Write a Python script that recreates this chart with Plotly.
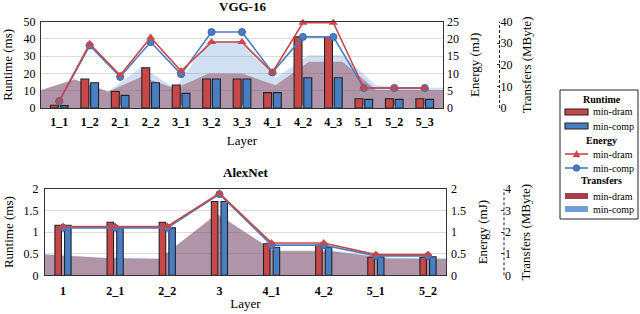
import plotly.graph_objects as go

# ---------------- data ----------------
vgg_layers = ["1_1", "1_2", "2_1", "2_2", "3_1", "3_2", "3_3", "4_1", "4_2", "4_3", "5_1", "5_2", "5_3"]
vgg_runtime_dram = [1.6, 16.8, 9.6, 23.3, 13.3, 16.8, 16.8, 8.9, 41.2, 41.2, 5.4, 5.4, 5.4]
vgg_runtime_comp = [1.4, 14.6, 7.3, 14.6, 8.5, 16.8, 16.8, 8.9, 17.5, 17.5, 5.0, 5.0, 5.0]
vgg_energy_dram = [2.1, 18.6, 9.5, 20.4, 10.7, 19.1, 19.1, 10.3, 24.7, 24.7, 5.8, 5.8, 5.8]
vgg_energy_comp = [2.0, 18.1, 9.0, 19.1, 9.8, 22.0, 22.0, 10.3, 20.6, 20.6, 5.8, 5.8, 5.8]
vgg_transfer_dram = [8.3, 13.3, 7.5, 14.5, 9.0, 16.0, 16.0, 10.6, 21.4, 21.4, 8.3, 8.3, 8.3]
vgg_transfer_comp = [8.0, 13.0, 7.5, 19.1, 9.2, 31.0, 31.0, 13.9, 24.5, 24.5, 10.6, 9.4, 9.4]
vgg_transfer_idx = list(range(len(vgg_layers)))

alex_layers = ["1", "2_1", "2_2", "3", "4_1", "4_2", "5_1", "5_2"]
alex_runtime_dram = [1.16, 1.23, 1.23, 1.71, 0.73, 0.70, 0.42, 0.42]
alex_runtime_comp = [1.16, 1.10, 1.10, 1.71, 0.65, 0.65, 0.43, 0.43]
alex_energy_dram = [1.13, 1.13, 1.13, 1.90, 0.75, 0.75, 0.48, 0.48]
alex_energy_comp = [1.10, 1.10, 1.10, 1.88, 0.70, 0.70, 0.45, 0.45]
alex_transfer_dram = [0.96, 0.80, 0.76, 2.86, 1.12, 1.12, 0.78, 0.76]
alex_transfer_comp = [0.98, 0.84, 0.80, 2.80, 1.16, 1.16, 0.82, 0.80]
alex_transfer_idx = list(range(len(alex_layers)))

vgg_rt_ticks = [0, 10, 20, 30, 40, 50]
vgg_en_ticks = [0, 5, 10, 15, 20, 25]
vgg_tr_ticks = [0, 10, 20, 30, 40]
alex_rt_ticks = [0, 0.5, 1, 1.5, 2]
alex_en_ticks = [0, 0.5, 1, 1.5, 2]
alex_tr_ticks = [0, 1, 2, 3, 4]

# ---------------- style ----------------
W, H = 640, 314
FONT = "Liberation Serif"
RED = "rgb(200,72,74)"
BLUE = "rgb(72,126,196)"
RED_AREA = "rgba(150,88,108,0.55)"
BLUE_AREA = "rgba(100,150,210,0.30)"
EDGE = "#222222"
GRID = "#dcdcdc"


def px(x):
    return x / W


def py(y):
    return 1 - y / H


top_dom_x = [px(41), px(443)]
top_dom_y = [py(108), py(21.7)]
bot_dom_x = [px(45), px(446)]
bot_dom_y = [py(275.3), py(189)]

fig = go.Figure()


def add_panel(xa_num, ya_tr, xa_cat, ya_rt, ya_en, layers, rt_d, rt_c, en_d, en_c,
              tr_d, tr_c, tr_idx, bar_off, bar_w):
    # transfer areas (base subplot, drawn at the back)
    fig.add_trace(go.Scatter(x=tr_idx, y=tr_c, xaxis=xa_num, yaxis=ya_tr, mode="lines",
                             line=dict(width=0, color=BLUE_AREA), fill="tozeroy",
                             fillcolor=BLUE_AREA, showlegend=False, hoverinfo="skip"))
    fig.add_trace(go.Scatter(x=tr_idx, y=tr_d, xaxis=xa_num, yaxis=ya_tr, mode="lines",
                             line=dict(width=0, color=RED_AREA), fill="tozeroy",
                             fillcolor=RED_AREA, showlegend=False, hoverinfo="skip"))
    # runtime bars
    fig.add_trace(go.Bar(x=layers, y=rt_d, xaxis=xa_cat, yaxis=ya_rt,
                         offset=-bar_off, width=bar_w,
                         marker=dict(color=RED, line=dict(color=EDGE, width=1.1)),
                         showlegend=False))
    fig.add_trace(go.Bar(x=layers, y=rt_c, xaxis=xa_cat, yaxis=ya_rt,
                         offset=bar_off - bar_w, width=bar_w,
                         marker=dict(color=BLUE, line=dict(color=EDGE, width=1.1)),
                         showlegend=False))
    # energy lines
    fig.add_trace(go.Scatter(x=layers, y=en_c, xaxis=xa_cat, yaxis=ya_en, mode="lines+markers",
                             line=dict(color=BLUE, width=1.6),
                             marker=dict(symbol="circle", size=7, color=BLUE,
                                         line=dict(color="rgb(55,100,170)", width=1)),
                             cliponaxis=False, showlegend=False))
    fig.add_trace(go.Scatter(x=layers, y=en_d, xaxis=xa_cat, yaxis=ya_en, mode="lines+markers",
                             line=dict(color=RED, width=1.6),
                             marker=dict(symbol="triangle-up", size=8, color=RED),
                             cliponaxis=False, showlegend=False))


add_panel("x", "y", "x2", "y2", "y3", vgg_layers, vgg_runtime_dram, vgg_runtime_comp,
          vgg_energy_dram, vgg_energy_comp, vgg_transfer_dram, vgg_transfer_comp,
          vgg_transfer_idx, 0.29, 0.26)
add_panel("x3", "y4", "x4", "y5", "y6", alex_layers, alex_runtime_dram, alex_runtime_comp,
          alex_energy_dram, alex_energy_comp, alex_transfer_dram, alex_transfer_comp,
          alex_transfer_idx, 0.155, 0.125)

num_font = dict(family=FONT, size=12, color="black")
cat_font = dict(family=FONT, size=12, color="black", weight="bold")
title_font = dict(family=FONT, size=13, color="black")

common_frame = dict(showline=True, linecolor="#333333", linewidth=1, mirror=True)

layout = dict(
    width=W, height=H, autosize=False,
    margin=dict(l=0, r=0, t=0, b=0, autoexpand=False),
    paper_bgcolor="white", plot_bgcolor="rgba(0,0,0,0)",
    barmode="overlay", showlegend=False,
    font=dict(family=FONT, color="black"),
    # ---------- top (VGG-16) ----------
    xaxis=dict(domain=top_dom_x, range=[0, len(vgg_layers) - 1], visible=False,
               anchor="y", fixedrange=True, automargin=False),
    yaxis=dict(domain=top_dom_y, range=[0, 40], anchor="free", position=px(499.5), side="right",
               showgrid=False, zeroline=False, showline=False, ticks="inside", ticklen=3,
               tickcolor="#333", tickvals=vgg_tr_ticks, tickfont=num_font, automargin=False,
               title=dict(text="Transfers (MByte)", font=title_font, standoff=10)),
    xaxis2=dict(overlaying="x", anchor="y2", type="category", range=[-0.6, len(vgg_layers) - 0.4],
                tickfont=cat_font, ticks="inside", ticklen=3, tickcolor="#999",
                ticklabelstandoff=3, showgrid=False, automargin=False,
                title=dict(text="Layer", font=title_font, standoff=7), **common_frame),
    yaxis2=dict(overlaying="y", anchor="x2", side="left", range=[0, 50], tickvals=vgg_rt_ticks,
                tickfont=num_font, showgrid=True, gridcolor=GRID, zeroline=False,
                ticklabelstandoff=2, automargin=False,
                title=dict(text="Runtime (ms)", font=title_font, standoff=8), **common_frame),
    yaxis3=dict(overlaying="y", anchor="x2", side="right", range=[0, 25], tickvals=vgg_en_ticks,
                tickfont=num_font, showgrid=False, zeroline=False, showline=False,
                ticklabelstandoff=3, automargin=False,
                title=dict(text="Energy (mJ)", font=title_font, standoff=11)),
    # ---------- bottom (AlexNet) ----------
    xaxis3=dict(domain=bot_dom_x, range=[0, len(alex_layers) - 1], visible=False,
                anchor="y4", fixedrange=True, automargin=False),
    yaxis4=dict(domain=bot_dom_y, range=[0, 4], anchor="free", position=px(504), side="right",
                showgrid=False, zeroline=False, showline=False, ticks="inside", ticklen=3,
                tickcolor="#333", tickvals=alex_tr_ticks, tickfont=num_font, automargin=False,
                title=dict(text="Transfers (MByte)", font=title_font, standoff=10)),
    xaxis4=dict(overlaying="x3", anchor="y5", type="category", range=[-0.345, len(alex_layers) - 0.655],
                tickfont=cat_font, ticks="inside", ticklen=3, tickcolor="#999",
                ticklabelstandoff=4, showgrid=False, automargin=False,
                title=dict(text="Layer", font=title_font, standoff=2), **common_frame),
    yaxis5=dict(overlaying="y4", anchor="x4", side="left", range=[0, 2], tickvals=alex_rt_ticks,
                tickfont=num_font, showgrid=True, gridcolor=GRID, zeroline=False,
                ticklabelstandoff=3, automargin=False,
                title=dict(text="Runtime (ms)", font=title_font, standoff=7), **common_frame),
    yaxis6=dict(overlaying="y4", anchor="x4", side="right", range=[0, 2], tickvals=alex_en_ticks,
                tickfont=num_font, showgrid=False, zeroline=False, showline=False,
                ticklabelstandoff=4, automargin=False,
                title=dict(text="Energy (mJ)", font=title_font, standoff=12)),
)
fig.update_layout(**layout)

shapes = []
annotations = []

# dashed transfer axis lines
shapes.append(dict(type="line", xref="paper", yref="y domain", x0=px(499.5), x1=px(499.5),
                   y0=0, y1=1, line=dict(color="#222", width=1, dash="3px,2px")))
shapes.append(dict(type="line", xref="paper", yref="y4 domain", x0=px(504), x1=px(504),
                   y0=0, y1=1, line=dict(color="#222", width=1, dash="3px,2px")))

# panel titles
annotations.append(dict(text="<b>VGG-16</b>", xref="paper", yref="paper", x=px(242), y=py(7),
                        showarrow=False, font=dict(family=FONT, size=13), xanchor="center",
                        yanchor="middle"))
annotations.append(dict(text="<b>AlexNet</b>", xref="paper", yref="paper", x=px(245.5), y=py(172),
                        showarrow=False, font=dict(family=FONT, size=13), xanchor="center",
                        yanchor="middle"))

# ---------------- manual legend ----------------
leg_font = dict(family=FONT, size=10, color="black")
shapes.append(dict(type="rect", xref="paper", yref="paper", x0=px(560), x1=px(638),
                   y0=py(219), y1=py(90), line=dict(color="#222", width=1), fillcolor="white"))


def leg_title(text, y):
    annotations.append(dict(text="<b>%s</b>" % text, xref="paper", yref="paper", x=px(601.5),
                            y=py(y), showarrow=False, font=leg_font, xanchor="center",
                            yanchor="middle"))


def leg_label(text, y):
    annotations.append(dict(text=text, xref="paper", yref="paper", x=px(591), y=py(y),
                            showarrow=False, font=leg_font, xanchor="left", yanchor="middle"))


def leg_patch(y, fill, edge):
    shapes.append(dict(type="rect", xref="paper", yref="paper", x0=px(565), x1=px(588),
                       y0=py(y + 3), y1=py(y - 3), fillcolor=fill,
                       line=dict(color=edge if edge else fill, width=1.1 if edge else 0)))


def leg_line(y, color):
    shapes.append(dict(type="line", xref="paper", yref="paper", x0=px(565), x1=px(588),
                       y0=py(y), y1=py(y), line=dict(color=color, width=1.6)))


leg_title("Runtime", 99)
leg_patch(112, RED, EDGE)
leg_label("min-dram", 112)
leg_patch(126, BLUE, EDGE)
leg_label("min-comp", 126)

leg_title("Energy", 140.5)
leg_line(154, RED)
shapes.append(dict(type="path", xref="paper", yref="paper",
                   path="M %f %f L %f %f L %f %f Z" % (px(573), py(157), px(580), py(157),
                                                        px(576.5), py(150.5)),
                   fillcolor=RED, line=dict(color=RED, width=0.5)))
leg_label("min-dram", 154)
leg_line(168, BLUE)
shapes.append(dict(type="circle", xref="paper", yref="paper", x0=px(573.3), x1=px(579.7),
                   y0=py(171.2), y1=py(164.8), fillcolor=BLUE,
                   line=dict(color="rgb(55,100,170)", width=1)))
leg_label("min-comp", 168)

leg_title("Transfers", 180.5)
leg_patch(196, "rgb(168,62,74)", None)
leg_label("min-dram", 196)
leg_patch(209, "rgb(112,158,214)", None)
leg_label("min-comp", 209)

fig.update_layout(shapes=shapes, annotations=annotations)

fig.write_html("out.html", config={"displayModeBar": False},
               post_script="document.body.style.margin='0';document.body.style.overflow='hidden';")
